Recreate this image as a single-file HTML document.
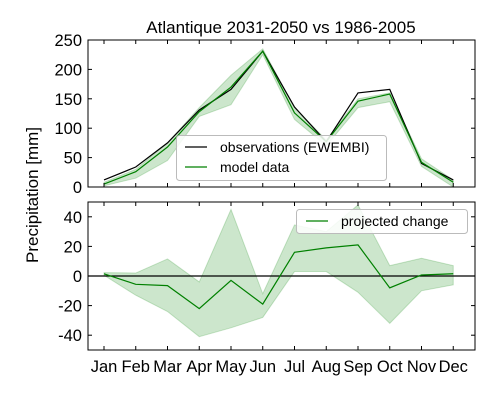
<!DOCTYPE html>
<html><head><meta charset="utf-8"><style>
body{margin:0;background:#fff}
svg{display:block;font-family:"Liberation Sans","DejaVu Sans",sans-serif}
</style></head><body>
<svg id="c" width="500" height="400">
<rect width="500" height="400" fill="#fff"/>
<text x="281" y="33" font-size="17" text-anchor="middle">Atlantique 2031-2050 vs 1986-2005</text>
<text transform="translate(38,195) rotate(-90)" font-size="17" text-anchor="middle">Precipitation [mm]</text>
</svg>
<script>
const months=["Jan","Feb","Mar","Apr","May","Jun","Jul","Aug","Sep","Oct","Nov","Dec"];
const obs=[12,34,75,131,166,231,136,77,160,166,40,12];
const model=[5,26,68,128,170,231,126,77,146,158,42,8];
const modelLow=[2,15,45,120,140,225,115,70,135,145,35,0];
const modelHigh=[8,30,75,135,190,235,135,80,150,160,48,12];
const change=[1.5,-5.6,-6.5,-22,-3,-19,16,19,21,-8,0.7,1.5];
const changeLow=[0.5,-13,-24,-41,-35,-28,3,3,-11,-32,-10,-6];
const changeHigh=[2.3,2,11.5,-4,45,-12,34.5,30,48,7,12,7];
const topTicks=[0,50,100,150,200,250];
const botTicks=[-40,-20,0,20,40];
const NS="http://www.w3.org/2000/svg";
const svg=document.getElementById('c');
const L=88,R=475;
const x=i=>104+i*31.75;
const yT=v=>187-(v)*(147/250);
const yB=v=>276-v*1.48;
function el(t,a,p){const e=document.createElementNS(NS,t);for(const k in a)e.setAttribute(k,a[k]);(p||svg).appendChild(e);return e;}
function band(lo,hi,f,name){let d=lo.map((v,i)=>(i?'L':'M')+x(i)+','+f(v)).join('');for(let i=hi.length-1;i>=0;i--)d+='L'+x(i)+','+f(hi[i]);d+='Z';
const p=el('path',{d:d,fill:'#008000','fill-opacity':0.2,stroke:'#008000','stroke-opacity':0.2});

}
function line(vals,f,col,name){const p=el('path',{d:vals.map((v,i)=>(i?'L':'M')+x(i)+','+f(v)).join(''),fill:'none',stroke:col,'stroke-width':1.2});

}
function axes(top,bot,ticks,f,name,labels){
 const g=el('g',{});
 
 
 ticks.forEach(t=>{const y=f(t);el('line',{x1:L,x2:L+4,y1:y,y2:y,stroke:'#000'},g);el('line',{x1:R-4,x2:R,y1:y,y2:y,stroke:'#000'},g);
  const tx=el('text',{x:L-6,y:y+6,'font-size':16.5,'text-anchor':'end'},g);tx.textContent=t;
  
  });
 months.forEach((m,i)=>{el('line',{x1:x(i),x2:x(i),y1:bot,y2:bot-4,stroke:'#000'},g);el('line',{x1:x(i),x2:x(i),y1:top,y2:top+4,stroke:'#000'},g);
  if(labels){const tx=el('text',{x:x(i),y:bot+22,'font-size':16.5,'text-anchor':'middle'},g);tx.textContent=m;
  
  }});
 el('rect',{x:L,y:top,width:R-L,height:bot-top,fill:'none',stroke:'#000','stroke-width':1},g);
}
band(modelLow,modelHigh,yT,'model-range-band');
line(obs,yT,'#000','observations-line');
line(model,yT,'#008000','model-line');
axes(40,187,topTicks,yT,'top-axes',false);
band(changeLow,changeHigh,yB,'change-range-band');
el('line',{x1:L,x2:R,y1:yB(0),y2:yB(0),stroke:'#000','stroke-width':1.2});
line(change,yB,'#008000','projected-change-line');
axes(202,350,botTicks,yB,'bottom-axes',true);
let lg=el('g',{});


el('rect',{x:176.5,y:135.5,width:210,height:45,rx:3,fill:'#fff','fill-opacity':0.85,stroke:'#bbb'},lg);
el('line',{x1:185,x2:207,y1:147,y2:147,stroke:'#000','stroke-width':1.2},lg);
el('line',{x1:185,x2:207,y1:167,y2:167,stroke:'#008000','stroke-width':1.2},lg);
let t=el('text',{x:220,y:152,'font-size':14},lg);t.textContent='observations (EWEMBI)';
t=el('text',{x:220,y:172,'font-size':14},lg);t.textContent='model data';
lg=el('g',{});


el('rect',{x:296.5,y:209.5,width:171,height:24,rx:3,fill:'#fff','fill-opacity':0.85,stroke:'#bbb'},lg);
el('line',{x1:306,x2:328,y1:221,y2:221,stroke:'#008000','stroke-width':1.2},lg);
t=el('text',{x:341,y:226,'font-size':14},lg);t.textContent='projected change';
</script>
</body></html>
